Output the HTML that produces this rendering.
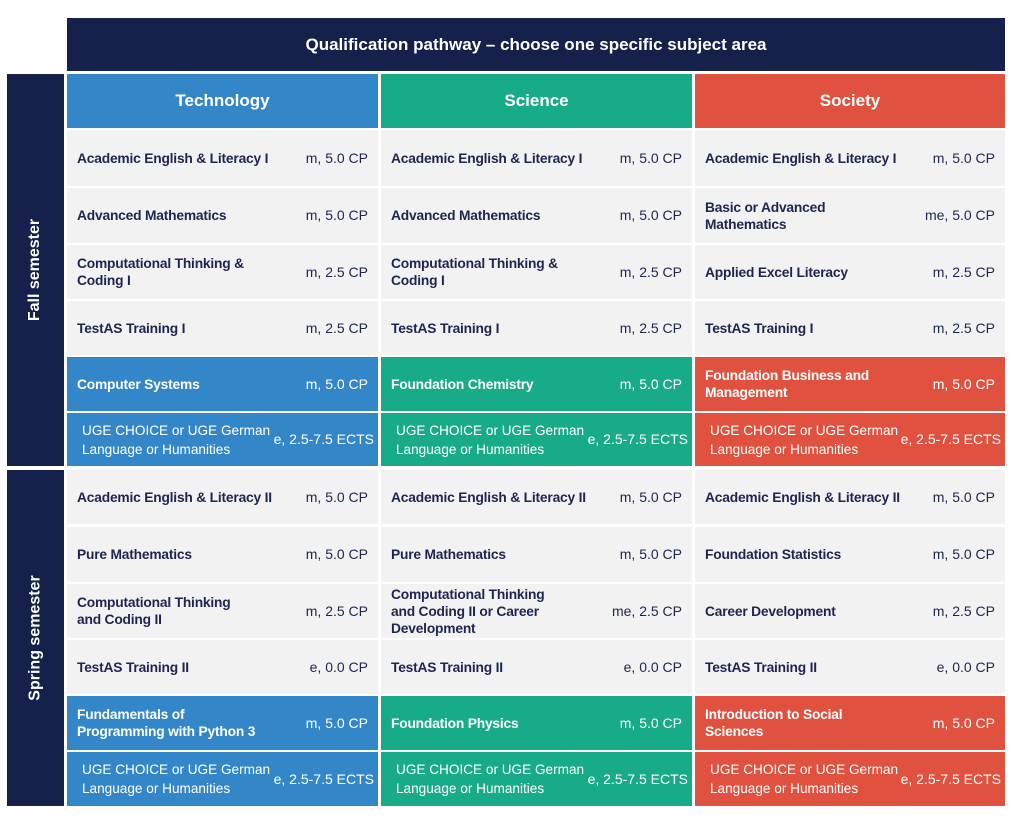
<!DOCTYPE html>
<html><head><meta charset="utf-8"><style>
body{margin:0;width:1013px;height:818px;background:#fff;position:relative;font-family:"Liberation Sans",sans-serif;overflow:hidden}
.a{position:absolute;box-sizing:border-box}
.nav{background:#16214b;color:#fff}
.c{display:flex;align-items:center;justify-content:space-between;padding:0 10px;font-size:13.8px;color:#1d2550;font-weight:bold;letter-spacing:-0.2px;line-height:17px}
.c span{white-space:nowrap}
.c span:last-child{font-weight:normal;font-size:14px;letter-spacing:0}
.g{background:#f2f2f2}
.B{background:#3387c9;color:#fff}.G{background:#18ab87;color:#fff}.R{background:#e0523f;color:#fff}
.h{display:flex;align-items:center;justify-content:center;font-size:17px;color:#fff;font-weight:bold}
.side{display:flex;align-items:center;justify-content:center}
.side div{transform:rotate(-90deg);white-space:nowrap;color:#fff;font-weight:bold;font-size:16px}
</style></head><body>
<div class="a nav h" style="left:67px;top:18px;width:938px;height:53px;font-size:17px">Qualification pathway – choose one specific subject area</div>
<div class="a nav side" style="left:7px;top:74px;width:57px;height:392px"><div>Fall semester</div></div>
<div class="a nav side" style="left:7px;top:470px;width:57px;height:336px"><div>Spring semester</div></div>
<div class="a h B" style="left:67px;top:74px;width:311px;height:54px">Technology</div>
<div class="a h G" style="left:381px;top:74px;width:311px;height:54px">Science</div>
<div class="a h R" style="left:695px;top:74px;width:310px;height:54px">Society</div>
<div id="cells"></div>
<script>
var tops=[[130,186],[188,243],[245,299],[301,355],[357,411],[413,466],[470,524],[527,582],[584,638],[640,694],[696,750],[752,806]];
var cols=[67,381,695];var w=[311,311,310];
var data=[
[["Academic English &amp; Literacy I","m, 5.0 CP"],["Academic English &amp; Literacy I","m, 5.0 CP"],["Academic English &amp; Literacy I","m, 5.0 CP"]],
[["Advanced Mathematics","m, 5.0 CP"],["Advanced Mathematics","m, 5.0 CP"],["Basic or Advanced<br>Mathematics","me, 5.0 CP"]],
[["Computational Thinking &amp;<br>Coding I","m, 2.5 CP"],["Computational Thinking &amp;<br>Coding I","m, 2.5 CP"],["Applied Excel Literacy","m, 2.5 CP"]],
[["TestAS Training I","m, 2.5 CP"],["TestAS Training I","m, 2.5 CP"],["TestAS Training I","m, 2.5 CP"]],
[["Computer Systems","m, 5.0 CP"],["Foundation Chemistry","m, 5.0 CP"],["Foundation Business and<br>Management","m, 5.0 CP"]],
[["UGE CHOICE  or UGE German<br>Language or Humanities","e, 2.5-7.5 ECTS"],["UGE CHOICE  or UGE German<br>Language or Humanities","e, 2.5-7.5 ECTS"],["UGE CHOICE  or UGE German<br>Language or Humanities","e, 2.5-7.5 ECTS"]],
[["Academic English &amp; Literacy II","m, 5.0 CP"],["Academic English &amp; Literacy II","m, 5.0 CP"],["Academic English &amp; Literacy II","m, 5.0 CP"]],
[["Pure Mathematics","m, 5.0 CP"],["Pure Mathematics","m, 5.0 CP"],["Foundation Statistics","m, 5.0 CP"]],
[["Computational Thinking<br>and Coding II","m, 2.5 CP"],["Computational Thinking<br>and Coding II or Career<br>Development","me, 2.5 CP"],["Career Development","m, 2.5 CP"]],
[["TestAS Training II","e, 0.0 CP"],["TestAS Training II","e, 0.0 CP"],["TestAS Training II","e, 0.0 CP"]],
[["Fundamentals of<br>Programming with Python 3","m, 5.0 CP"],["Foundation Physics","m, 5.0 CP"],["Introduction to Social<br>Sciences","m, 5.0 CP"]],
[["UGE CHOICE or UGE German<br>Language or Humanities","e, 2.5-7.5 ECTS"],["UGE CHOICE or UGE German<br>Language or Humanities","e, 2.5-7.5 ECTS"],["UGE CHOICE or UGE German<br>Language or Humanities","e, 2.5-7.5 ECTS"]]];
var cls=["B","G","R"],h="";
for(var r=0;r<12;r++)for(var c=0;c<3;c++){
var col=(r==4||r==5||r==10||r==11)?cls[c]:"g";
var uge=(r==5||r==11);
h+='<div class="a c '+col+'" style="left:'+cols[c]+'px;top:'+tops[r][0]+'px;width:'+w[c]+'px;height:'+(tops[r][1]-tops[r][0])+'px;'+(uge?'font-weight:normal;font-size:13.6px;letter-spacing:0;line-height:19px;padding-left:15px;padding-right:4px;':'')+(col!="g"?'color:#fff;':'')+'"><span>'+data[r][c][0]+'</span><span>'+data[r][c][1]+'</span></div>';}
document.getElementById("cells").innerHTML=h;
</script>
</body></html>
